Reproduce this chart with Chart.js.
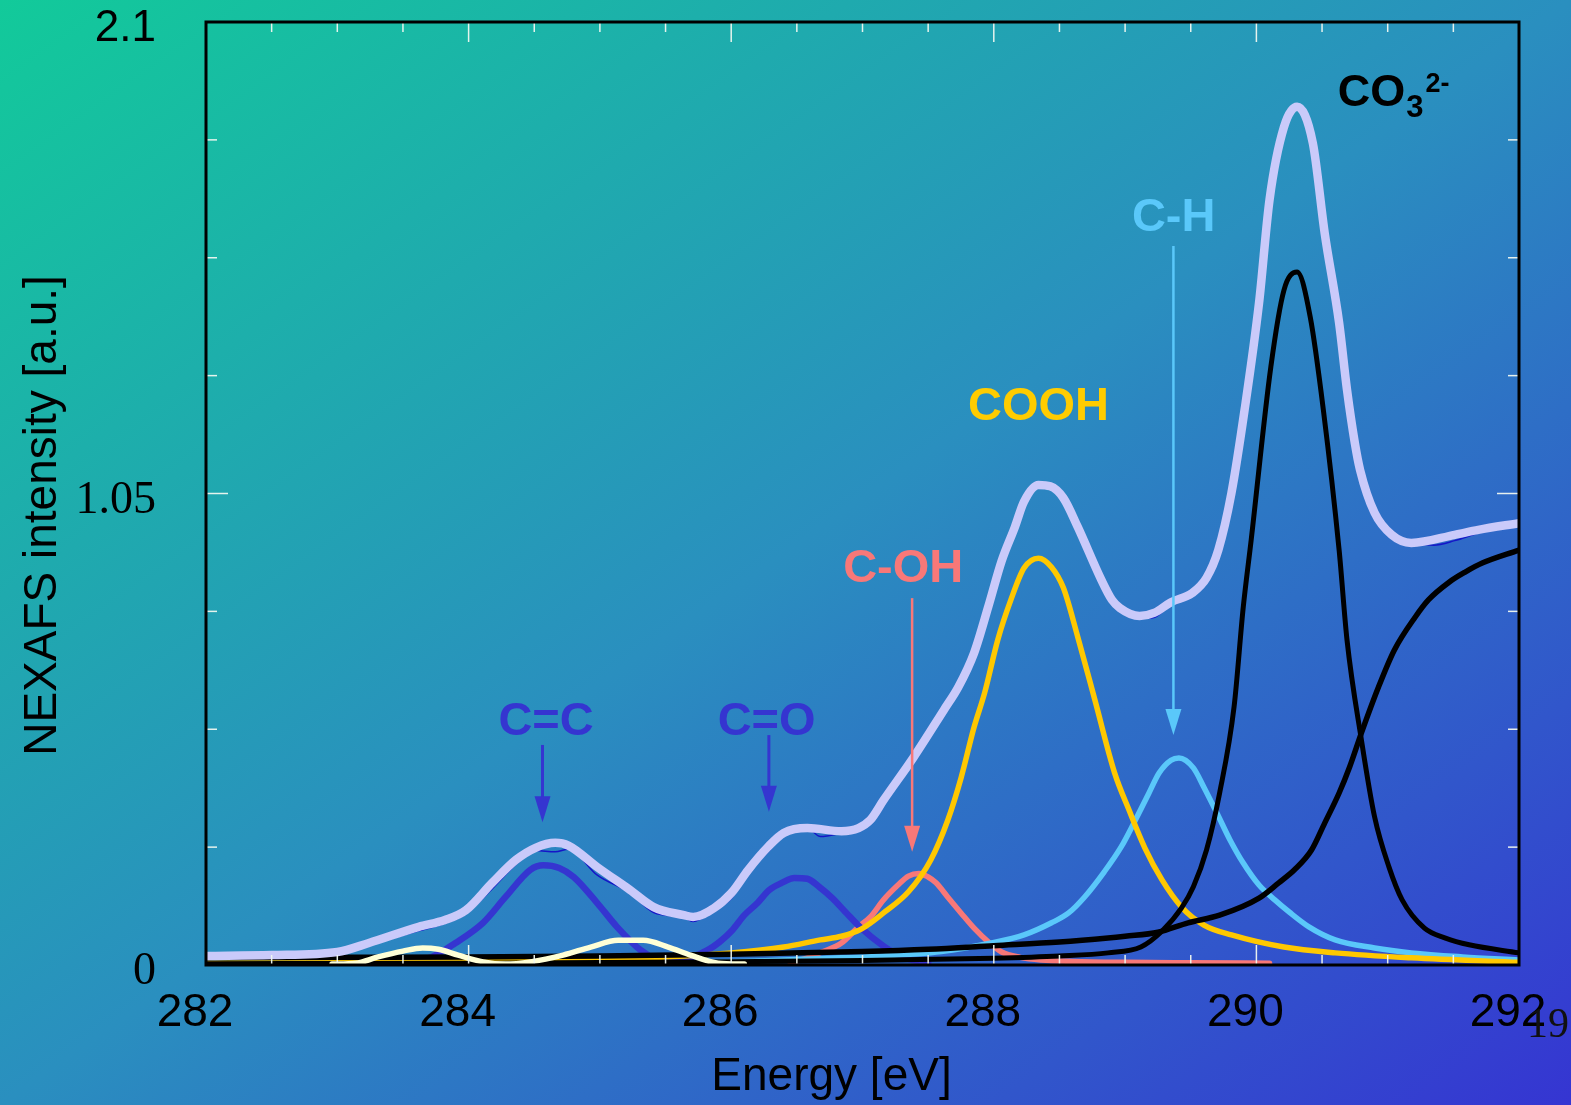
<!DOCTYPE html>
<html>
<head>
<meta charset="utf-8">
<script src="https://cdn.jsdelivr.net/npm/chart.js@4.4.1/dist/chart.umd.min.js"></script>
<style>
  html, body { margin: 0; padding: 0; }
  body {
    width: 1571px; height: 1105px; overflow: hidden;
    background: linear-gradient(to bottom right, #12CA9A 0%, #2A8FBF 50%, #3535D2 100%);
  }
  #wrap { position: relative; width: 1571px; height: 1105px; }
</style>
</head>
<body>
<div id="wrap"><canvas id="c"></canvas></div>
<script>
// ---- C 1s NEXAFS spectrum and its peak decomposition (energy in eV, intensity in a.u.) ----

// measured spectrum
const measE = [282.0, 282.5, 283.0, 283.24, 283.62, 283.82, 283.98, 284.18, 284.36, 284.51, 284.66, 284.76, 284.98, 285.23, 285.41, 285.64, 285.71, 285.87, 286.0, 286.13, 286.28, 286.4, 286.58, 286.68, 286.84, 286.97, 287.06, 287.16, 287.39, 287.62, 287.73, 287.85, 287.96, 288.06, 288.16, 288.23, 288.34, 288.43, 288.53, 288.64, 288.82, 288.9, 288.96, 289.11, 289.22, 289.35, 289.51, 289.62, 289.71, 289.81, 289.91, 290.02, 290.1, 290.21, 290.31, 290.43, 290.52, 290.63, 290.69, 290.75, 290.79, 290.9, 291.03, 291.18, 291.35, 291.51, 291.69, 292.0];
const measI = [0.018, 0.021, 0.027, 0.045, 0.076, 0.093, 0.114, 0.170, 0.224, 0.255, 0.252, 0.258, 0.200, 0.160, 0.117, 0.106, 0.097, 0.122, 0.148, 0.206, 0.252, 0.290, 0.304, 0.286, 0.294, 0.303, 0.322, 0.362, 0.458, 0.565, 0.616, 0.690, 0.795, 0.892, 0.966, 1.024, 1.066, 1.064, 1.040, 0.972, 0.852, 0.808, 0.790, 0.772, 0.774, 0.804, 0.826, 0.860, 0.922, 1.050, 1.236, 1.474, 1.704, 1.866, 1.911, 1.830, 1.630, 1.430, 1.281, 1.162, 1.102, 1.007, 0.958, 0.940, 0.935, 0.945, 0.962, 0.984];

// total fit
const fitE = [282.0, 282.5, 283.0, 283.24, 283.62, 283.82, 283.98, 284.18, 284.36, 284.51, 284.66, 284.76, 284.98, 285.23, 285.41, 285.64, 285.71, 285.87, 286.0, 286.13, 286.28, 286.4, 286.58, 286.84, 286.97, 287.06, 287.16, 287.39, 287.62, 287.73, 287.85, 287.96, 288.06, 288.16, 288.23, 288.34, 288.43, 288.53, 288.64, 288.82, 288.9, 288.96, 289.11, 289.22, 289.35, 289.51, 289.62, 289.71, 289.81, 289.91, 290.02, 290.1, 290.21, 290.31, 290.43, 290.52, 290.63, 290.69, 290.75, 290.79, 290.9, 291.03, 291.18, 291.51, 291.69, 292.0];
const fitI = [0.020, 0.022, 0.029, 0.049, 0.085, 0.100, 0.122, 0.183, 0.234, 0.261, 0.272, 0.266, 0.218, 0.167, 0.129, 0.111, 0.107, 0.127, 0.160, 0.212, 0.263, 0.294, 0.305, 0.298, 0.305, 0.323, 0.367, 0.463, 0.568, 0.619, 0.695, 0.800, 0.900, 0.975, 1.032, 1.069, 1.066, 1.040, 0.975, 0.857, 0.813, 0.795, 0.777, 0.784, 0.808, 0.828, 0.862, 0.924, 1.051, 1.236, 1.474, 1.704, 1.866, 1.911, 1.830, 1.630, 1.430, 1.281, 1.162, 1.102, 1.007, 0.958, 0.940, 0.958, 0.969, 0.984];

// C=C (pi*)
const ccE = [283.3, 283.52, 283.72, 283.9, 284.11, 284.28, 284.47, 284.57, 284.69, 284.8, 284.98, 285.13, 285.31, 285.44, 285.6];
const ccI = [0.002, 0.007, 0.018, 0.049, 0.094, 0.151, 0.212, 0.222, 0.216, 0.196, 0.138, 0.085, 0.033, 0.011, 0.002];

// C=O
const coE = [285.5, 285.69, 285.82, 285.91, 286.01, 286.1, 286.2, 286.29, 286.4, 286.48, 286.58, 286.67, 286.77, 286.87, 286.99, 287.16, 287.3, 287.5];
const coI = [0.003, 0.016, 0.033, 0.051, 0.078, 0.111, 0.138, 0.167, 0.185, 0.194, 0.192, 0.174, 0.149, 0.118, 0.082, 0.042, 0.018, 0.005];

// C-OH
const cohE = [286.45, 286.58, 286.7, 286.84, 286.97, 287.06, 287.16, 287.27, 287.35, 287.43, 287.5, 287.56, 287.65, 287.75, 287.85, 287.96, 288.06, 288.2, 288.36, 288.6, 289.0, 289.5, 290.1];
const cohI = [0.004, 0.016, 0.030, 0.049, 0.085, 0.107, 0.145, 0.178, 0.198, 0.204, 0.196, 0.183, 0.151, 0.116, 0.082, 0.051, 0.029, 0.017, 0.011, 0.008, 0.006, 0.005, 0.004];

// COOH
const coohE = [282.0, 283.0, 284.0, 285.0, 285.5, 286.0, 286.4, 286.68, 286.84, 286.99, 287.16, 287.35, 287.52, 287.65, 287.75, 287.85, 287.93, 288.03, 288.13, 288.23, 288.34, 288.44, 288.53, 288.64, 288.77, 288.92, 289.03, 289.15, 289.28, 289.43, 289.6, 289.81, 290.21, 290.6, 291.18, 292.0];
const coohI = [0.004, 0.005, 0.008, 0.014, 0.018, 0.027, 0.040, 0.056, 0.064, 0.080, 0.116, 0.163, 0.234, 0.323, 0.416, 0.530, 0.606, 0.724, 0.813, 0.884, 0.906, 0.886, 0.840, 0.730, 0.590, 0.428, 0.345, 0.261, 0.190, 0.129, 0.089, 0.067, 0.040, 0.027, 0.016, 0.006];

// C-H
const chE = [285.5, 286.0, 286.5, 286.84, 287.09, 287.6, 287.98, 288.23, 288.44, 288.57, 288.69, 288.84, 288.97, 289.07, 289.18, 289.26, 289.35, 289.41, 289.52, 289.6, 289.7, 289.8, 289.9, 290.02, 290.14, 290.25, 290.4, 290.6, 290.9, 291.18, 291.57, 292.0];
const chI = [0.002, 0.007, 0.012, 0.016, 0.019, 0.030, 0.049, 0.067, 0.094, 0.116, 0.151, 0.207, 0.263, 0.318, 0.382, 0.428, 0.456, 0.461, 0.439, 0.396, 0.338, 0.278, 0.227, 0.178, 0.145, 0.118, 0.085, 0.056, 0.038, 0.027, 0.018, 0.011];

// carbonate CO3 2-
const carbE = [282.0, 284.0, 286.0, 287.0, 288.0, 288.5, 288.87, 289.12, 289.28, 289.43, 289.52, 289.62, 289.72, 289.83, 289.9, 289.96, 290.11, 290.21, 290.31, 290.41, 290.51, 290.63, 290.69, 290.8, 290.9, 291.01, 291.11, 291.28, 291.44, 291.62, 292.0];
const carbI = [0.003, 0.004, 0.007, 0.010, 0.015, 0.020, 0.027, 0.040, 0.075, 0.127, 0.174, 0.256, 0.383, 0.575, 0.797, 0.946, 1.332, 1.503, 1.543, 1.443, 1.236, 0.924, 0.724, 0.501, 0.330, 0.218, 0.145, 0.082, 0.060, 0.045, 0.027];

// ionisation edge step
const edgeE = [282.0, 283.0, 284.0, 285.0, 286.0, 287.0, 287.5, 288.0, 288.5, 288.87, 289.0, 289.25, 289.48, 289.72, 290.02, 290.17, 290.29, 290.42, 290.52, 290.63, 290.71, 290.8, 290.93, 291.05, 291.21, 291.31, 291.47, 291.59, 291.72, 292.0];
const edgeI = [0.016, 0.017, 0.018, 0.020, 0.024, 0.030, 0.035, 0.043, 0.051, 0.060, 0.064, 0.073, 0.094, 0.111, 0.149, 0.183, 0.212, 0.256, 0.316, 0.383, 0.441, 0.517, 0.619, 0.701, 0.775, 0.813, 0.853, 0.875, 0.895, 0.924];

// weak pre-edge features
const preE = [282.96, 283.14, 283.31, 283.5, 283.65, 283.77, 283.92, 284.11, 284.28, 284.47, 284.72, 284.93, 285.14, 285.33, 285.52, 285.69, 285.9, 286.1];
const preI = [0.002, 0.004, 0.018, 0.031, 0.038, 0.035, 0.022, 0.007, 0.002, 0.007, 0.022, 0.040, 0.055, 0.055, 0.040, 0.022, 0.004, 0.002];

// axis labels
const xLabelVals = [282, 284, 286, 288, 290, 292];
const yLabelVals = [0, 1.05, 2.1];
const yLabelText = ['0', '1.05', '2.1'];

const SANS = "'Liberation Sans', Arial, sans-serif";
const SERIF = "'Liberation Serif', 'Times New Roman', serif";

const pts = (E, I) => E.map((e, i) => ({ x: e, y: I[i] }));
const near = (a, b) => Math.abs(a - b) < 1e-6;

function series(E, I, color, width, order) {
  return {
    data: pts(E, I),
    borderColor: color,
    borderWidth: width,
    pointRadius: 0,
    fill: false,
    cubicInterpolationMode: 'monotone',
    borderJoinStyle: 'round',
    borderCapStyle: 'round',
    order: order
  };
}

// peak names and their marker arrows (placed in data coordinates)
const peakNotes = [
  { text: 'C=C',  e: 284.59, v: 0.541, color: '#3535D0' },
  { text: 'C=O',  e: 286.27, v: 0.541, color: '#3535D0' },
  { text: 'C-OH', e: 287.31, v: 0.882, color: '#F87878' },
  { text: 'COOH', e: 288.34, v: 1.243, color: '#FFCC00' },
  { text: 'C-H',  e: 289.37, v: 1.664, color: '#5AC8FA' }
];
const peakArrows = [
  { e: 284.563, from: 0.490, to: 0.318, color: '#3535D0', w: 3 },
  { e: 286.287, from: 0.512, to: 0.341, color: '#3535D0', w: 3 },
  { e: 287.378, from: 0.817, to: 0.252, color: '#F87878', w: 2.5 },
  { e: 289.368, from: 1.601, to: 0.512, color: '#5AC8FA', w: 2.5 }
];

// keep the plot rectangle fixed regardless of label overhang
function fixPadding(s) {
  s.paddingTop = 0; s.paddingBottom = 0; s.paddingLeft = 0; s.paddingRight = 0;
}

const decorations = {
  id: 'decorations',
  afterDatasetsDraw(chart) {
    const { ctx, chartArea: a, scales: { x, y } } = chart;
    ctx.save();

    // inward tick marks on all four sides
    ctx.strokeStyle = 'rgba(240,248,240,0.95)';
    ctx.lineWidth = 1.5;
    const seg = (x0, y0, x1, y1) => { ctx.beginPath(); ctx.moveTo(x0, y0); ctx.lineTo(x1, y1); ctx.stroke(); };
    x.ticks.forEach(t => {
      const px = x.getPixelForValue(t.value);
      const len = xLabelVals.some(v => near(v, t.value)) ? 20 : 10;
      seg(px, a.bottom, px, a.bottom - len);
      seg(px, a.top, px, a.top + len);
    });
    y.ticks.forEach(t => {
      const py = y.getPixelForValue(t.value);
      const len = yLabelVals.some(v => near(v, t.value)) ? 22 : 11;
      seg(a.left, py, a.left + len, py);
      seg(a.right, py, a.right - len, py);
    });

    // plot frame
    ctx.strokeStyle = '#000';
    ctx.lineWidth = 3;
    ctx.strokeRect(a.left, a.top, a.right - a.left, a.bottom - a.top);

    // arrows
    peakArrows.forEach(ar => {
      const px = x.getPixelForValue(ar.e);
      const y0 = y.getPixelForValue(ar.from);
      const y1 = y.getPixelForValue(ar.to);
      const headL = 26, headW = 8;
      ctx.strokeStyle = ar.color;
      ctx.fillStyle = ar.color;
      ctx.lineWidth = ar.w;
      seg(px, y0, px, y1 - headL + 2);
      ctx.beginPath();
      ctx.moveTo(px, y1);
      ctx.lineTo(px - headW, y1 - headL);
      ctx.lineTo(px + headW, y1 - headL);
      ctx.closePath();
      ctx.fill();
    });

    // peak names
    ctx.textAlign = 'center';
    ctx.textBaseline = 'middle';
    ctx.font = "bold 47px " + SANS;
    peakNotes.forEach(n => {
      ctx.fillStyle = n.color;
      ctx.fillText(n.text, x.getPixelForValue(n.e), y.getPixelForValue(n.v));
    });

    // carbonate label with sub- and superscript
    ctx.textAlign = 'left';
    ctx.textBaseline = 'alphabetic';
    ctx.fillStyle = '#000';
    let cx = x.getPixelForValue(290.62);
    ctx.font = "bold 45px " + SANS;
    ctx.fillText('CO', cx, y.getPixelForValue(1.913));
    cx += ctx.measureText('CO').width + 1;
    ctx.font = "bold 31px " + SANS;
    ctx.fillText('3', cx, y.getPixelForValue(1.888));
    cx += ctx.measureText('3').width + 2;
    ctx.font = "bold 27px " + SANS;
    ctx.fillText('2-', cx, y.getPixelForValue(1.944));

    ctx.restore();
  },
  afterDraw(chart) {
    const { ctx, chartArea: a } = chart;
    ctx.save();
    ctx.fillStyle = '#000';
    // axis titles
    ctx.font = "46px " + SANS;
    ctx.textAlign = 'center';
    ctx.textBaseline = 'alphabetic';
    ctx.fillText('Energy [eV]', (a.left + a.right) / 2 - 31, a.bottom + 125);
    ctx.save();
    ctx.translate(a.left - 150, (a.top + a.bottom) / 2 + 22);
    ctx.rotate(-Math.PI / 2);
    ctx.fillText('NEXAFS intensity [a.u.]', 0, 0);
    ctx.restore();
    // page number
    ctx.font = "42px " + SERIF;
    ctx.textAlign = 'left';
    ctx.fillStyle = '#111';
    ctx.fillText('19', 1527, 1037);
    ctx.restore();
  }
};

Chart.defaults.font.family = SANS;
Chart.defaults.color = '#000';

new Chart(document.getElementById('c'), {
  type: 'line',
  data: {
    datasets: [
      series(fitE, fitI, '#CACAFA', 8.5, 0),
      series(measE, measI, '#1515C8', 1.5, 1),
      series(preE, preI, '#FFFFD6', 5.5, 2),
      series(carbE, carbI, '#000000', 5, 3),
      series(edgeE, edgeI, '#000000', 5.5, 4),
      series(coohE, coohI, '#FFC800', 5.5, 5),
      series(chE, chI, '#5AC8FA', 5.5, 6),
      series(ccE, ccI, '#3535D0', 6.5, 7),
      series(coE, coI, '#3535D0', 6.5, 8),
      series(cohE, cohI, '#F87878', 5.5, 9)
    ]
  },
  options: {
    responsive: true,
    maintainAspectRatio: false,
    devicePixelRatio: 1,
    animation: false,
    events: [],
    layout: { padding: { top: 22, right: 52, left: 0, bottom: 0 } },
    plugins: { legend: { display: false }, tooltip: { enabled: false } },
    scales: {
      x: {
        type: 'linear',
        min: 282, max: 292,
        grid: { display: false, drawTicks: false },
        border: { display: false },
        afterFit: s => { s.height = 140; fixPadding(s); },
        ticks: {
          stepSize: 0.5,
          autoSkip: false,
          maxRotation: 0,
          padding: 21,
          labelOffset: -11,
          color: '#000',
          font: { size: 46, family: SANS },
          callback: v => (xLabelVals.some(l => near(l, v)) ? String(Math.round(v)) : '')
        }
      },
      y: {
        type: 'linear',
        min: 0, max: 2.1,
        grid: { display: false, drawTicks: false },
        border: { display: false },
        afterFit: s => { s.width = 206; fixPadding(s); },
        ticks: {
          stepSize: 0.2625,
          autoSkip: false,
          padding: 50,
          labelOffset: 7,
          color: '#000',
          font: ctx => (ctx.tick && near(ctx.tick.value, 2.1))
            ? { size: 44, family: SANS, lineHeight: 0.8 }
            : { size: 46, family: SERIF, lineHeight: 0.8 },
          callback: v => {
            const i = yLabelVals.findIndex(l => near(l, v));
            return i >= 0 ? yLabelText[i] : '';
          }
        }
      }
    }
  },
  plugins: [decorations]
});
</script>
</body>
</html>
